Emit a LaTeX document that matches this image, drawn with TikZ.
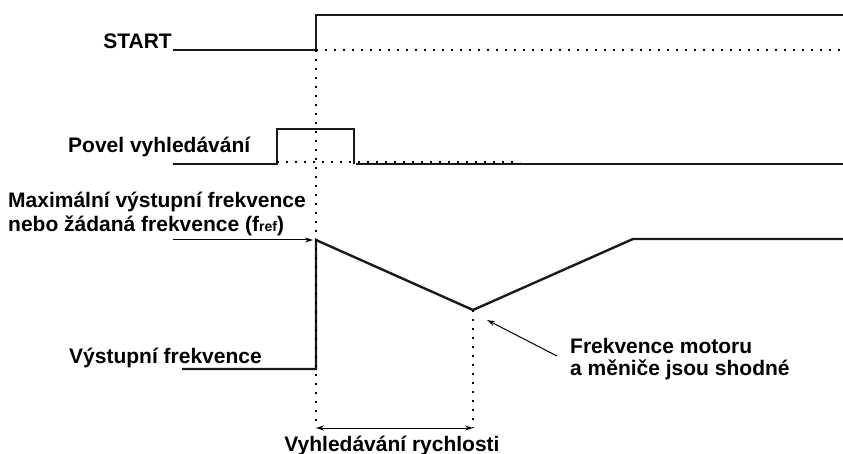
\documentclass[tikz,border=0pt]{standalone}
\usepackage{fontspec}
\setmainfont{Liberation Sans}
\usetikzlibrary{arrows.meta}
\begin{document}
\begin{tikzpicture}[x=1pt,y=-1pt,
  sig/.style={line width=2.4pt,line join=miter,line cap=butt,draw=black!90},
  dots/.style={line width=2pt,dash pattern=on 2pt off 7pt,draw=black},
  pointer/.style={line width=1pt,-{Stealth[length=8pt,width=5pt]}},
  lbl/.style={font=\bfseries\fontsize{21}{24}\selectfont,inner sep=0pt}]
\useasboundingbox (0,0) rectangle (843,454);
% coordinates
\coordinate (s0) at (173,50); \coordinate (s1) at (316,50); \coordinate (s2) at (316,15); \coordinate (s3) at (843,15);
\coordinate (sd) at (843,50);
\coordinate (p0) at (173,164); \coordinate (p1) at (277,164); \coordinate (p2) at (277,129);
\coordinate (p3) at (354,129); \coordinate (p4) at (354,164); \coordinate (p5) at (843,164);
\coordinate (pd) at (520,162);
\coordinate (f0) at (182,369); \coordinate (f1) at (316,369); \coordinate (f2) at (316,240);
\coordinate (f3) at (473,310); \coordinate (f4) at (633,239); \coordinate (f5) at (843,239);
\coordinate (v1) at (316,428); \coordinate (v2) at (473,428);
\coordinate (a0) at (173,240); \coordinate (a1) at (313,240);
\coordinate (m0) at (557,356); \coordinate (m1) at (487,320);
% signals
\draw[sig] (s0) -- (s1) -- (s2) -- (s3);
\draw[sig] (p0) -- (p1) -- (p2) -- (p3) -- (p4);
\draw[sig] (356,164) -- (p5);
\draw[sig] (f0) -- (f1) -- (f2) -- (f3) -- (f4) -- (f5);
% dotted
\draw[dots] (s1) -- (sd);
\draw[dots] (p1 |- pd) -- (pd);
\draw[dots] (s1) -- (v1);
\draw[dots] (f3) -- (v2);
% arrows
\draw[line width=1pt,{Stealth[length=8pt,width=5pt]}-{Stealth[length=8pt,width=5pt]}] (v1) -- (v2);
\draw[pointer] (a0) -- (a1);
\draw[pointer] (m0) -- (m1);
% labels
\node[lbl,anchor=base east] (lstart) at (172,49) {START};
\node[lbl,anchor=base west] (lpovel) at (68,153) {Povel vyhledávání};
\node[lbl,anchor=base west,align=left] (lmax) at (8,208) {Maximální výstupní frekvence};
\node[lbl,anchor=base west] (lref) at (8,232) {nebo žádaná frekvence (f{\fontsize{14}{14}\selectfont ref})};
\node[lbl,anchor=base west] (lout) at (69,363) {Výstupní frekvence};
\node[lbl,anchor=base west] (lmot1) at (570,353) {Frekvence motoru};
\node[lbl,anchor=base west] (lmot2) at (570,375) {a měniče jsou shodné};
\node[lbl,anchor=base] (lsearch) at (392,451) {Vyhledávání rychlosti};
\end{tikzpicture}
\end{document}
